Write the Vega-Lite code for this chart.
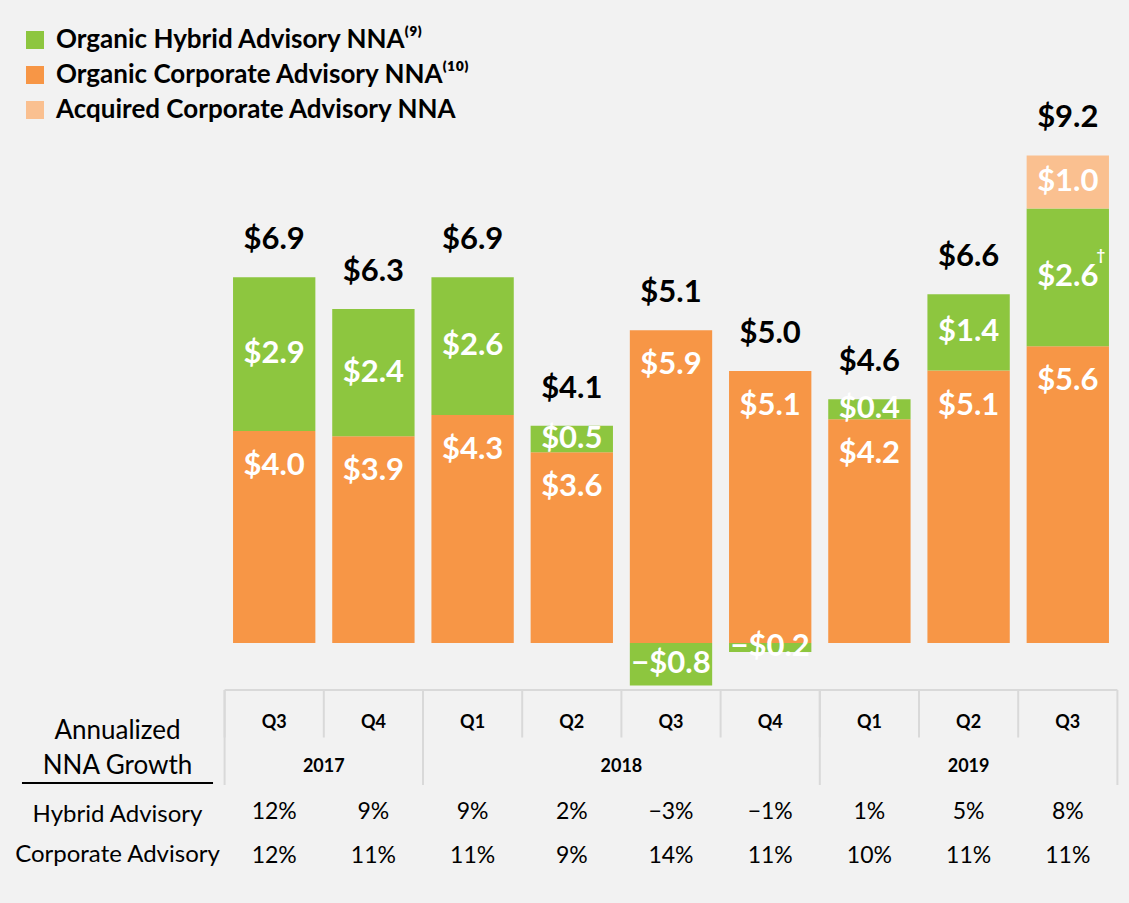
{
  "$schema": "https://vega.github.io/schema/vega-lite/v6.json",
  "width": 1129,
  "height": 903,
  "autosize": {"type": "fit", "contains": "padding"},
  "padding": 0,
  "background": "#f2f2f2",
  "config": {"view": {"stroke": null}, "font": "Lato"},
  "datasets": {
    "nna": [
      {"period": "Q3 2017", "source": "Organic", "type": "Corporate", "series": "Organic Corporate Advisory NNA", "value": 4.0},
      {"period": "Q3 2017", "source": "Organic", "type": "Hybrid", "series": "Organic Hybrid Advisory NNA", "value": 2.9},
      {"period": "Q4 2017", "source": "Organic", "type": "Corporate", "series": "Organic Corporate Advisory NNA", "value": 3.9},
      {"period": "Q4 2017", "source": "Organic", "type": "Hybrid", "series": "Organic Hybrid Advisory NNA", "value": 2.4},
      {"period": "Q1 2018", "source": "Organic", "type": "Corporate", "series": "Organic Corporate Advisory NNA", "value": 4.3},
      {"period": "Q1 2018", "source": "Organic", "type": "Hybrid", "series": "Organic Hybrid Advisory NNA", "value": 2.6},
      {"period": "Q2 2018", "source": "Organic", "type": "Corporate", "series": "Organic Corporate Advisory NNA", "value": 3.6},
      {"period": "Q2 2018", "source": "Organic", "type": "Hybrid", "series": "Organic Hybrid Advisory NNA", "value": 0.5},
      {"period": "Q3 2018", "source": "Organic", "type": "Corporate", "series": "Organic Corporate Advisory NNA", "value": 5.9},
      {"period": "Q3 2018", "source": "Organic", "type": "Hybrid", "series": "Organic Hybrid Advisory NNA", "value": -0.8},
      {"period": "Q4 2018", "source": "Organic", "type": "Corporate", "series": "Organic Corporate Advisory NNA", "value": 5.13},
      {"period": "Q4 2018", "source": "Organic", "type": "Hybrid", "series": "Organic Hybrid Advisory NNA", "value": -0.17},
      {"period": "Q1 2019", "source": "Organic", "type": "Corporate", "series": "Organic Corporate Advisory NNA", "value": 4.22},
      {"period": "Q1 2019", "source": "Organic", "type": "Hybrid", "series": "Organic Hybrid Advisory NNA", "value": 0.38},
      {"period": "Q2 2019", "source": "Organic", "type": "Corporate", "series": "Organic Corporate Advisory NNA", "value": 5.14},
      {"period": "Q2 2019", "source": "Organic", "type": "Hybrid", "series": "Organic Hybrid Advisory NNA", "value": 1.44},
      {"period": "Q3 2019", "source": "Organic", "type": "Corporate", "series": "Organic Corporate Advisory NNA", "value": 5.6},
      {"period": "Q3 2019", "source": "Organic", "type": "Hybrid", "series": "Organic Hybrid Advisory NNA", "value": 2.6, "note": "†"},
      {"period": "Q3 2019", "source": "Acquired", "type": "Corporate", "series": "Acquired Corporate Advisory NNA", "value": 1.0}
    ],
    "periods": [
      {"period": "Q3 2017", "q": "Q3", "year": "2017"},
      {"period": "Q4 2017", "q": "Q4", "year": "2017"},
      {"period": "Q1 2018", "q": "Q1", "year": "2018"},
      {"period": "Q2 2018", "q": "Q2", "year": "2018"},
      {"period": "Q3 2018", "q": "Q3", "year": "2018"},
      {"period": "Q4 2018", "q": "Q4", "year": "2018"},
      {"period": "Q1 2019", "q": "Q1", "year": "2019"},
      {"period": "Q2 2019", "q": "Q2", "year": "2019"},
      {"period": "Q3 2019", "q": "Q3", "year": "2019"}
    ],
    "years": [{"year": "2017"}, {"year": "2018"}, {"year": "2019"}],
    "growth": [
      {"period": "Q3 2017", "metric": "hybrid", "pct": 0.12},
      {"period": "Q4 2017", "metric": "hybrid", "pct": 0.09},
      {"period": "Q1 2018", "metric": "hybrid", "pct": 0.09},
      {"period": "Q2 2018", "metric": "hybrid", "pct": 0.02},
      {"period": "Q3 2018", "metric": "hybrid", "pct": -0.03},
      {"period": "Q4 2018", "metric": "hybrid", "pct": -0.01},
      {"period": "Q1 2019", "metric": "hybrid", "pct": 0.01},
      {"period": "Q2 2019", "metric": "hybrid", "pct": 0.05},
      {"period": "Q3 2019", "metric": "hybrid", "pct": 0.08},
      {"period": "Q3 2017", "metric": "corporate", "pct": 0.12},
      {"period": "Q4 2017", "metric": "corporate", "pct": 0.11},
      {"period": "Q1 2018", "metric": "corporate", "pct": 0.11},
      {"period": "Q2 2018", "metric": "corporate", "pct": 0.09},
      {"period": "Q3 2018", "metric": "corporate", "pct": 0.14},
      {"period": "Q4 2018", "metric": "corporate", "pct": 0.11},
      {"period": "Q1 2019", "metric": "corporate", "pct": 0.10},
      {"period": "Q2 2019", "metric": "corporate", "pct": 0.11},
      {"period": "Q3 2019", "metric": "corporate", "pct": 0.11}
    ],
    "leftLabels": [
      {"label": ["Annualized", "NNA Growth"], "row": "header"},
      {"label": "Hybrid Advisory", "row": "hybrid"},
      {"label": "Corporate Advisory", "row": "corporate"}
    ]
  },
  "layer": [
    {
      "layer": [
        {
          "data": {"name": "nna"},
          "encoding": {
            "x": {"field": "period", "type": "nominal", "axis": null,
                  "scale": {"domain": ["Q3 2017","Q4 2017","Q1 2018","Q2 2018","Q3 2018","Q4 2018","Q1 2019","Q2 2019","Q3 2019"], "range": [224.6, 1117.4], "paddingInner": 0, "paddingOuter": 0}}
          },
          "layer": [
            {
              "transform": [
                {"stack": "value", "groupby": ["period"], "offset": "zero",
                 "sort": [{"field": "source", "order": "descending"}, {"field": "type", "order": "ascending"}],
                 "as": ["v0", "v1"]}
              ],
              "mark": {"type": "bar", "width": {"band": 0.83}},
              "encoding": {
                "y": {"field": "v0", "type": "quantitative", "axis": null,
                      "scale": {"domain": [-4.906, 12.132], "nice": false, "zero": false}},
                "y2": {"field": "v1"},
                "color": {"field": "series", "type": "nominal",
                  "scale": {"domain": ["Organic Hybrid Advisory NNA", "Organic Corporate Advisory NNA", "Acquired Corporate Advisory NNA"],
                            "range": ["#8dc63f", "#f79646", "#fac090"]},
                  "legend": {"title": null, "orient": "none", "legendX": 22, "legendY": 27, "direction": "vertical",
                    "symbolType": "square", "symbolSize": 324, "symbolStrokeWidth": 0,
                    "labelFont": "Lato", "labelFontSize": 26, "labelFontWeight": "bold", "labelColor": "#000000",
                    "labelOffset": 8, "rowPadding": 9, "padding": 0, "labelLimit": 0,
                    "labelExpr": "datum.label === 'Organic Hybrid Advisory NNA' ? datum.label + '⁽⁹⁾' : (datum.label === 'Organic Corporate Advisory NNA' ? datum.label + '⁽¹⁰⁾' : datum.label)"}}
              }
            },
            {
              "mark": {"type": "text", "font": "Lato", "fontSize": 31, "fontWeight": "bold", "color": "#ffffff", "baseline": "middle"},
              "encoding": {
                "y": {"field": "value", "type": "quantitative", "stack": "zero", "bandPosition": 0.5, "axis": null,
                      "scale": {"domain": [-4.906, 12.132], "nice": false, "zero": false}},
                "order": [{"field": "source", "sort": "descending"}, {"field": "type", "sort": "ascending"}],
                "detail": {"field": "series"},
                "text": {"condition": {"test": "datum.type === 'Corporate' && datum.source === 'Organic'", "value": ""},
                         "field": "value", "type": "quantitative", "format": "$.1f"}
              }
            },
            {
              "transform": [
                {"stack": "value", "groupby": ["period"], "offset": "zero",
                 "sort": [{"field": "source", "order": "descending"}, {"field": "type", "order": "ascending"}],
                 "as": ["v0", "v1"]},
                {"filter": "isValid(datum.note)"}
              ],
              "mark": {"type": "text", "font": "Lato", "fontSize": 15, "fontWeight": "bold", "color": "#ffffff", "baseline": "middle", "dx": 33, "dy": 47},
              "encoding": {
                "y": {"field": "v1", "type": "quantitative", "axis": null,
                      "scale": {"domain": [-4.906, 12.132], "nice": false, "zero": false}},
                "text": {"field": "note"}
              }
            },
            {
              "transform": [{"filter": "datum.type === 'Corporate' && datum.source === 'Organic'"}],
              "mark": {"type": "text", "font": "Lato", "fontSize": 31, "fontWeight": "bold", "color": "#ffffff", "baseline": "middle", "dy": 35},
              "encoding": {
                "y": {"field": "value", "type": "quantitative", "stack": null, "axis": null,
                      "scale": {"domain": [-4.906, 12.132], "nice": false, "zero": false}},
                "text": {"field": "value", "type": "quantitative", "format": "$.1f"}
              }
            },
            {
              "transform": [
                {"joinaggregate": [{"op": "sum", "field": "value", "as": "total"}], "groupby": ["period"]},
                {"filter": "datum.value > 0"},
                {"aggregate": [{"op": "sum", "field": "value", "as": "top"}, {"op": "max", "field": "total", "as": "total"}], "groupby": ["period"]}
              ],
              "mark": {"type": "text", "font": "Lato", "fontSize": 31, "fontWeight": "bold", "color": "#000000", "baseline": "middle", "dy": -37},
              "encoding": {
                "y": {"field": "top", "type": "quantitative", "stack": null, "axis": null,
                      "scale": {"domain": [-4.906, 12.132], "nice": false, "zero": false}},
                "text": {"field": "total", "type": "quantitative", "format": "$.1f"}
              }
            }
          ]
        },
        {
          "layer": [
            {
              "data": {"name": "periods"},
              "mark": {"type": "rule", "color": "#d9d9d9", "strokeWidth": 2},
              "encoding": {
                "x": {"field": "period", "type": "nominal", "bandPosition": 0, "axis": null,
                      "scale": {"domain": ["Q3 2017","Q4 2017","Q1 2018","Q2 2018","Q3 2018","Q4 2018","Q1 2019","Q2 2019","Q3 2019"], "range": [224.6, 1117.4], "paddingInner": 0, "paddingOuter": 0}},
                "y": {"datum": "quarter", "type": "nominal", "bandPosition": 0, "axis": null,
                      "scale": {"type": "band", "domain": ["quarter", "year"], "range": [690, 785], "paddingInner": 0, "paddingOuter": 0}},
                "y2": {"datum": "quarter", "bandPosition": 1}
              }
            },
            {
              "data": {"name": "periods"},
              "transform": [{"filter": "datum.q === 'Q1'"}],
              "mark": {"type": "rule", "color": "#d9d9d9", "strokeWidth": 2},
              "encoding": {
                "x": {"field": "period", "type": "nominal", "bandPosition": 0, "axis": null,
                      "scale": {"domain": ["Q3 2017","Q4 2017","Q1 2018","Q2 2018","Q3 2018","Q4 2018","Q1 2019","Q2 2019","Q3 2019"], "range": [224.6, 1117.4], "paddingInner": 0, "paddingOuter": 0}},
                "y": {"datum": "quarter", "type": "nominal", "bandPosition": 0, "axis": null,
                      "scale": {"type": "band", "domain": ["quarter", "year"], "range": [690, 785], "paddingInner": 0, "paddingOuter": 0}},
                "y2": {"datum": "year", "bandPosition": 1}
              }
            },
            {
              "data": {"values": [{}]},
              "mark": {"type": "rule", "color": "#d9d9d9", "strokeWidth": 2},
              "encoding": {
                "x": {"datum": "Q3 2017", "type": "nominal", "bandPosition": 0, "axis": null,
                      "scale": {"domain": ["Q3 2017","Q4 2017","Q1 2018","Q2 2018","Q3 2018","Q4 2018","Q1 2019","Q2 2019","Q3 2019"], "range": [224.6, 1117.4], "paddingInner": 0, "paddingOuter": 0}},
                "y": {"datum": "quarter", "type": "nominal", "bandPosition": 0, "axis": null,
                      "scale": {"type": "band", "domain": ["quarter", "year"], "range": [690, 785], "paddingInner": 0, "paddingOuter": 0}},
                "y2": {"datum": "year", "bandPosition": 1}
              }
            },
            {
              "data": {"values": [{}]},
              "mark": {"type": "rule", "color": "#d9d9d9", "strokeWidth": 2},
              "encoding": {
                "x": {"datum": "Q3 2019", "type": "nominal", "bandPosition": 1, "axis": null,
                      "scale": {"domain": ["Q3 2017","Q4 2017","Q1 2018","Q2 2018","Q3 2018","Q4 2018","Q1 2019","Q2 2019","Q3 2019"], "range": [224.6, 1117.4], "paddingInner": 0, "paddingOuter": 0}},
                "y": {"datum": "quarter", "type": "nominal", "bandPosition": 0, "axis": null,
                      "scale": {"type": "band", "domain": ["quarter", "year"], "range": [690, 785], "paddingInner": 0, "paddingOuter": 0}},
                "y2": {"datum": "year", "bandPosition": 1}
              }
            },
            {
              "data": {"values": [{}]},
              "mark": {"type": "rule", "color": "#d9d9d9", "strokeWidth": 2},
              "encoding": {
                "x": {"datum": "Q3 2017", "type": "nominal", "bandPosition": 0, "axis": null,
                      "scale": {"domain": ["Q3 2017","Q4 2017","Q1 2018","Q2 2018","Q3 2018","Q4 2018","Q1 2019","Q2 2019","Q3 2019"], "range": [224.6, 1117.4], "paddingInner": 0, "paddingOuter": 0}},
                "x2": {"datum": "Q3 2019", "bandPosition": 1},
                "y": {"datum": "quarter", "type": "nominal", "bandPosition": 0, "axis": null,
                      "scale": {"type": "band", "domain": ["quarter", "year"], "range": [690, 785], "paddingInner": 0, "paddingOuter": 0}}
              }
            }
          ]
        },
        {
          "layer": [
            {
              "data": {"name": "periods"},
              "mark": {"type": "text", "font": "Lato", "fontSize": 18, "fontWeight": "bold", "color": "#000000", "baseline": "middle"},
              "encoding": {
                "x": {"field": "period", "type": "nominal", "axis": null,
                      "scale": {"domain": ["Q3 2017","Q4 2017","Q1 2018","Q2 2018","Q3 2018","Q4 2018","Q1 2019","Q2 2019","Q3 2019"], "range": [224.6, 1117.4], "paddingInner": 0, "paddingOuter": 0}},
                "y": {"datum": "quarter", "type": "nominal", "axis": null,
                      "scale": {"type": "point", "domain": ["quarter", "year", "hybrid", "corporate"], "range": [723, 856], "padding": 0}},
                "text": {"field": "q"}
              }
            },
            {
              "data": {"name": "years"},
              "transform": [{"filter": "datum.year === '2017'"}],
              "mark": {"type": "text", "font": "Lato", "fontSize": 18, "fontWeight": "bold", "color": "#000000", "baseline": "middle"},
              "encoding": {
                "x": {"datum": "Q4 2017", "type": "nominal", "bandPosition": 0, "axis": null,
                      "scale": {"domain": ["Q3 2017","Q4 2017","Q1 2018","Q2 2018","Q3 2018","Q4 2018","Q1 2019","Q2 2019","Q3 2019"], "range": [224.6, 1117.4], "paddingInner": 0, "paddingOuter": 0}},
                "y": {"datum": "year", "type": "nominal", "axis": null,
                      "scale": {"type": "point", "domain": ["quarter", "year", "hybrid", "corporate"], "range": [723, 856], "padding": 0}},
                "text": {"field": "year"}
              }
            },
            {
              "data": {"name": "years"},
              "transform": [{"filter": "datum.year === '2018'"}],
              "mark": {"type": "text", "font": "Lato", "fontSize": 18, "fontWeight": "bold", "color": "#000000", "baseline": "middle"},
              "encoding": {
                "x": {"datum": "Q3 2018", "type": "nominal", "bandPosition": 0, "axis": null,
                      "scale": {"domain": ["Q3 2017","Q4 2017","Q1 2018","Q2 2018","Q3 2018","Q4 2018","Q1 2019","Q2 2019","Q3 2019"], "range": [224.6, 1117.4], "paddingInner": 0, "paddingOuter": 0}},
                "y": {"datum": "year", "type": "nominal", "axis": null,
                      "scale": {"type": "point", "domain": ["quarter", "year", "hybrid", "corporate"], "range": [723, 856], "padding": 0}},
                "text": {"field": "year"}
              }
            },
            {
              "data": {"name": "years"},
              "transform": [{"filter": "datum.year === '2019'"}],
              "mark": {"type": "text", "font": "Lato", "fontSize": 18, "fontWeight": "bold", "color": "#000000", "baseline": "middle"},
              "encoding": {
                "x": {"datum": "Q2 2019", "type": "nominal", "bandPosition": 0.5, "axis": null,
                      "scale": {"domain": ["Q3 2017","Q4 2017","Q1 2018","Q2 2018","Q3 2018","Q4 2018","Q1 2019","Q2 2019","Q3 2019"], "range": [224.6, 1117.4], "paddingInner": 0, "paddingOuter": 0}},
                "y": {"datum": "year", "type": "nominal", "axis": null,
                      "scale": {"type": "point", "domain": ["quarter", "year", "hybrid", "corporate"], "range": [723, 856], "padding": 0}},
                "text": {"field": "year"}
              }
            },
            {
              "data": {"name": "growth"},
              "mark": {"type": "text", "font": "Lato", "fontSize": 23, "color": "#000000", "baseline": "middle"},
              "encoding": {
                "x": {"field": "period", "type": "nominal", "axis": null,
                      "scale": {"domain": ["Q3 2017","Q4 2017","Q1 2018","Q2 2018","Q3 2018","Q4 2018","Q1 2019","Q2 2019","Q3 2019"], "range": [224.6, 1117.4], "paddingInner": 0, "paddingOuter": 0}},
                "y": {"field": "metric", "type": "nominal", "axis": null,
                      "scale": {"type": "point", "domain": ["quarter", "year", "hybrid", "corporate"], "range": [723, 856], "padding": 0}},
                "text": {"field": "pct", "type": "quantitative", "format": ".0%"}
              }
            }
          ]
        }
      ],
      "resolve": {"scale": {"y": "independent"}}
    },
    {
      "data": {"name": "leftLabels"},
      "encoding": {
        "x": {"datum": "label", "type": "nominal", "axis": null,
              "scale": {"type": "band", "domain": ["label"], "range": [0, 235], "paddingInner": 0, "paddingOuter": 0.115}},
        "y": {"field": "row", "type": "nominal", "axis": null,
              "scale": {"type": "point", "domain": ["header", "hybrid", "corporate"], "range": [775, 855], "padding": 0}}
      },
      "layer": [
        {
          "transform": [{"filter": "datum.row === 'header'"}],
          "mark": {"type": "text", "font": "Lato", "fontSize": 26, "color": "#000000", "baseline": "middle", "lineHeight": 35, "dy": -44},
          "encoding": {"text": {"field": "label"}}
        },
        {
          "transform": [{"filter": "datum.row !== 'header'"}],
          "mark": {"type": "text", "font": "Lato", "fontSize": 24, "color": "#000000", "baseline": "middle"},
          "encoding": {"text": {"field": "label"}}
        },
        {
          "transform": [{"filter": "datum.row === 'header'"}],
          "mark": {"type": "rule", "color": "#000000", "strokeWidth": 2},
          "encoding": {
            "x": {"datum": "label", "type": "nominal", "bandPosition": 0, "axis": null,
                  "scale": {"type": "band", "domain": ["label"], "range": [0, 235], "paddingInner": 0, "paddingOuter": 0.115}},
            "x2": {"datum": "label", "bandPosition": 1},
            "yOffset": {"value": 8}
          }
        }
      ]
    }
  ],
  "resolve": {"scale": {"x": "independent", "y": "independent"}}
}
